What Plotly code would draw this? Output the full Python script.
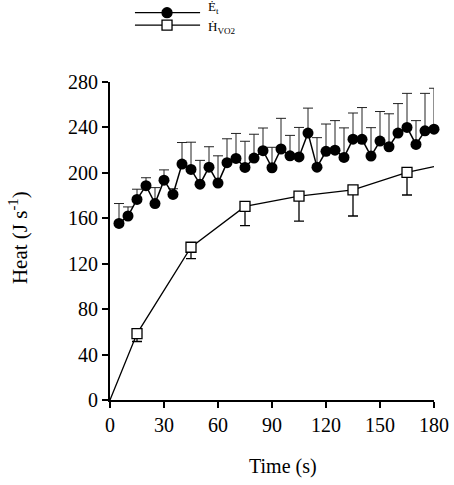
import plotly.graph_objects as go

# Filled circles: E_t (every 5 s), with upper SD
t_et = [5, 10, 15, 20, 25, 30, 35, 40, 45, 50, 55, 60, 65, 70, 75, 80, 85, 90,
        95, 100, 105, 110, 115, 120, 125, 130, 135, 140, 145, 150, 155, 160, 165, 170, 175, 180]
et = [155.5, 162, 176.6, 188.7, 173, 193.6, 181, 207.7, 203, 190, 205, 191, 209, 212.7,
      204.8, 213, 219.5, 204.5, 221, 215, 214, 235, 205, 219, 220, 213.6, 229.7, 229.5,
      214.8, 228, 223, 235, 240, 225, 237, 238.5]
et_err = [17.5, 8, 9, 7, 14, 9, 5, 19, 24, 21, 18, 24, 21, 22, 23, 21, 20, 18, 27, 18,
          26, 22, 26, 24, 26, 26, 23, 28, 25, 26, 29, 26, 30, 21, 33, 36]

# Open squares: H_VO2 line (with start and end points) and measured points with lower SD
t_h_line = [0, 15, 45, 75, 105, 135, 165, 180]
h_line = [0, 58.5, 134.5, 170.5, 179.5, 185, 200.5, 205.5]
t_h = [15, 45, 75, 105, 135, 165]
h = [58.5, 134.5, 170.5, 179.5, 185, 200.5]
h_err = [7, 10, 17, 22, 23, 20]

x_ticks = [0, 30, 60, 90, 120, 150, 180]
y_ticks = [0, 40, 80, 120, 160, 200, 240, 280]

FONT = "Liberation Serif"

fig = go.Figure()

fig.add_trace(go.Scatter(
    x=t_h_line, y=h_line, mode="lines",
    line=dict(color="black", width=1.3), cliponaxis=False, showlegend=False))

fig.add_trace(go.Scatter(
    x=t_h, y=h, mode="markers",
    marker=dict(symbol="square", size=10, color="white", line=dict(color="black", width=1.3)),
    error_y=dict(type="data", symmetric=False, array=[0] * len(h), arrayminus=h_err,
                 color="black", thickness=1.3, width=5),
    cliponaxis=False, showlegend=False))

fig.add_trace(go.Scatter(
    x=t_et, y=et, mode="lines+markers",
    line=dict(color="black", width=1.5),
    marker=dict(symbol="circle", size=11, color="black"),
    error_y=dict(type="data", symmetric=False, array=et_err, arrayminus=[0] * len(et),
                 color="#222222", thickness=1, width=5),
    cliponaxis=False, showlegend=False))

# Manual legend (line y, label y, symbol, fill, text)
legend_items = [(1.218, 1.234, "circle", "black", "Ė<sub>t</sub>"),
                (1.179, 1.172, "square", "white", "Ḣ<sub>VO2</sub>")]
for yp, ylab, sym, fill, label in legend_items:
    fig.add_shape(type="line", xref="paper", yref="paper", x0=0.077, x1=0.278, y0=yp, y1=yp,
                  line=dict(color="black", width=1.3))
    fig.add_shape(type="circle" if sym == "circle" else "rect",
                  xref="paper", yref="paper", xsizemode="pixel", ysizemode="pixel",
                  xanchor=0.176, yanchor=yp, x0=-5, x1=5, y0=-5, y1=5,
                  fillcolor=fill, line=dict(color="black", width=1.3))
    fig.add_annotation(xref="paper", yref="paper", x=0.30, y=ylab, text=label, showarrow=False,
                       xanchor="left", yanchor="middle", borderpad=0,
                       font=dict(family=FONT, size=13, color="black"))

fig.add_annotation(xref="paper", yref="paper", x=0.533, y=-0.208, text="Time (s)", showarrow=False,
                   xanchor="center", yanchor="middle", font=dict(family=FONT, size=20, color="black"))
fig.add_annotation(xref="paper", yref="paper", x=-0.28, y=0.51, text="Heat (J s<sup>-1</sup>)",
                   showarrow=False, textangle=-90, xanchor="center", yanchor="middle",
                   font=dict(family=FONT, size=21, color="black"))

axis_common = dict(showline=True, linecolor="black", linewidth=2, ticks="outside", ticklen=6,
                   tickwidth=2, tickcolor="black", showgrid=False, zeroline=False, automargin=False,
                   tickfont=dict(family=FONT, size=20, color="black"))

fig.update_xaxes(range=[0, 180], tickvals=x_ticks, **axis_common)
fig.update_yaxes(range=[0, 280], tickvals=y_ticks, **axis_common)

fig.update_layout(width=454, height=485, margin=dict(l=110, r=20, t=82, b=85),
                  plot_bgcolor="white", paper_bgcolor="white", showlegend=False)

fig.write_html("out.html", config={"displayModeBar": False},
               post_script="document.body.style.margin='0';")
